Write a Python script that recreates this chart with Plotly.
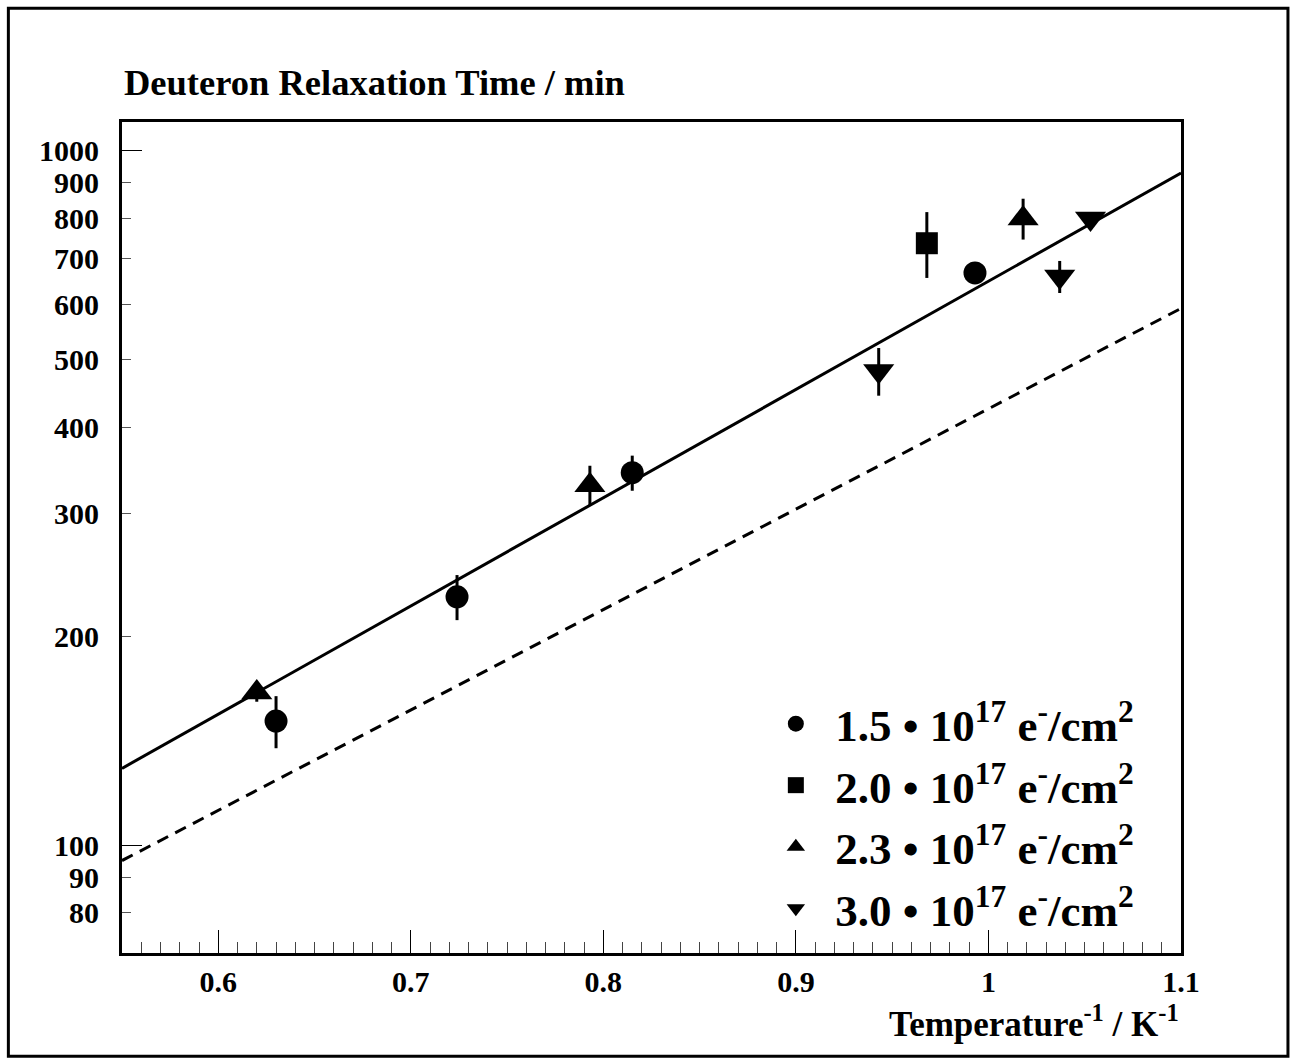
import plotly.graph_objects as go

# ---- data ----
s15_x = [0.630, 0.724, 0.815, 0.993]
s15_y = [151, 228, 344, 667]
s15_e = [13, 17, 20, 8]

s20_x = [0.968]
s20_y = [736]
s20_e = [80]

s23_x = [0.620, 0.793, 1.018]
s23_y = [166, 330, 799]
s23_e = [5, 22, 54]

s30_x = [0.943, 1.037, 1.053]
s30_y = [482, 659, 799]
s30_e = [38, 35, 10]

fit_x = [0.55, 1.1]
fit_solid_y = [129.1, 929]
fit_dash_y = [95.1, 593]

ytick_vals = [80, 90, 100, 200, 300, 400, 500, 600, 700, 800, 900, 1000]
ytick_text = [str(v) for v in ytick_vals]
xtick_vals = [0.6, 0.7, 0.8, 0.9, 1.0, 1.1]
xtick_text = ["0.6", "0.7", "0.8", "0.9", "1", "1.1"]

FONT = "Liberation Serif"
lab = "{} \u2022 10<sup>17</sup> e<sup>-</sup>/cm<sup>2</sup>"

fig = go.Figure()

fig.add_trace(go.Scatter(x=fit_x, y=fit_solid_y, mode="lines",
                         line=dict(color="black", width=3), showlegend=False))
fig.add_trace(go.Scatter(x=fit_x, y=fit_dash_y, mode="lines",
                         line=dict(color="black", width=3, dash="12px,8px"), showlegend=False))

series = [
    (s15_x, s15_y, s15_e, "circle", "1.5", 23),
    (s20_x, s20_y, s20_e, "square", "2.0", 22),
    (s23_x, s23_y, s23_e, "triangle-up", "2.3", 27),
    (s30_x, s30_y, s30_e, "triangle-down", "3.0", 27),
]
for xs, ys, es, sym, name, sz in series:
    fig.add_trace(go.Scatter(
        x=xs, y=ys, mode="markers", name=lab.format(name),
        marker=dict(symbol=sym, size=sz, color="black"),
        error_y=dict(type="data", array=es, visible=True, color="black",
                     thickness=3, width=0),
    ))

fig.update_layout(
    width=1296, height=1064,
    margin=dict(l=122, r=115, t=122, b=111),
    plot_bgcolor="white", paper_bgcolor="white",
    showlegend=True,
    legend=dict(x=0.599, y=0.319, xanchor="left", yanchor="top",
                bgcolor="rgba(0,0,0,0)",
                font=dict(family=FONT, size=45, color="black", weight="bold"),
                itemsizing="trace", itemwidth=69, tracegroupgap=0),
    xaxis=dict(range=[0.55, 1.1], showgrid=False, zeroline=False,
               showline=True, linewidth=3, linecolor="black", mirror=True,
               tickvals=xtick_vals, ticktext=xtick_text,
               ticks="inside", ticklen=23, tickwidth=1, tickcolor="black",
               tickfont=dict(family=FONT, size=30, color="black", weight="bold"),
               minor=dict(dtick=0.01, tick0=0.5, ticks="inside", ticklen=11,
                          tickwidth=1, tickcolor="#444")),
    yaxis=dict(type="log", range=[1.8451, 3.0414], showgrid=False, zeroline=False,
               showline=True, linewidth=3, linecolor="black", mirror=True,
               tickvals=ytick_vals, ticktext=ytick_text,
               ticks="inside", ticklen=9, tickwidth=1, tickcolor="#555",
               ticklabelstandoff=14,
               tickfont=dict(family=FONT, size=30, color="black", weight="bold")),
    yaxis2=dict(type="log", range=[1.8451, 3.0414], overlaying="y", side="left",
                anchor="x", showgrid=False, zeroline=False, showline=False,
                tickvals=[100, 1000], showticklabels=False,
                ticks="inside", ticklen=20, tickwidth=1, tickcolor="black"),
)

fig.add_trace(go.Scatter(x=[None], y=[None], yaxis="y2", showlegend=False,
                         hoverinfo="skip"))

fig.add_annotation(text="<b>Deuteron Relaxation Time / min</b>",
                   xref="paper", yref="paper", x=0, y=1.047,
                   xanchor="left", yanchor="middle", showarrow=False,
                   font=dict(family=FONT, size=36.5, color="black"))
fig.add_annotation(text="<b>Temperature<sup>-1</sup> / K<sup>-1</sup></b>",
                   xref="paper", yref="paper", x=1.0, y=-0.082,
                   xanchor="right", yanchor="middle", showarrow=False,
                   font=dict(family=FONT, size=35, color="black"))

# outer frame of the figure
fig.add_shape(type="rect", xref="paper", yref="paper",
              x0=-0.1073, x1=1.101, y0=-0.1243, y1=1.1368,
              line=dict(color="black", width=3), fillcolor="rgba(0,0,0,0)")

fig.write_html("out.html")
